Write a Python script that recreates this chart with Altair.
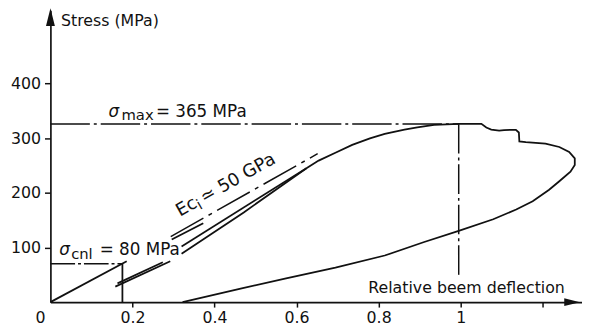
import altair as alt
import pandas as pd

FONT = "DejaVu Sans"
INK = "#111111"
X_MAX = 1.2957
Y_MAX = 533.8

# ---- curves (relative deflection, stress MPa) ----
init_x = [0.0, 0.186]
init_y = [0.0, 74.8]
unload_x = [0.1755, 0.1755]
unload_y = [70.6, 0.0]
reload_a_x = [0.1582, 0.2921]
reload_a_y = [28.3, 74.8]
reload_b_x = [0.1635, 0.2740]
reload_b_y = [34.3, 73.0]
loop_up_x = [0.3197, 0.625]
loop_up_y = [101.9, 245.3]
loop_lo_x = [0.3197, 0.4712, 0.625]
loop_lo_y = [88.4, 164.1, 245.3]
short_x = [0.2957, 0.3726]
short_y = [114.5, 144.3]
env_x = [0.625, 0.6538, 0.6947, 0.7356, 0.7788, 0.8149, 0.863, 0.8942, 0.9351,
         0.9952, 1.0505, 1.0625, 1.0745, 1.0938, 1.1058, 1.1346, 1.1418, 1.1430,
         1.1587, 1.2067, 1.2404, 1.2644, 1.2781, 1.2781, 1.2676, 1.2397, 1.2156,
         1.1755, 1.1353, 1.0793, 0.9952, 0.9111, 0.8149, 0.6947, 0.5745, 0.4663,
         0.3221]
env_y = [245.3, 258.8, 273.2, 287.6, 299.4, 307.8, 315.6, 319.7, 324.1,
         325.9, 325.9, 319.2, 315.6, 313.8, 314.7, 315.1, 310.2, 294.0,
         292.7, 289.8, 283.7, 274.7, 262.8, 250.7, 238.6, 220.6, 205.6,
         184.5, 169.5, 151.5, 130.4, 110.0, 85.3, 63.1, 43.3, 25.2,
         0.0]

# dash-dot construction lines
tangent_x = [0.2933, 0.6514]
tangent_y = [119.9, 271.4]
smax_h_x = [0.0, 0.9952]
smax_h_y = [325.9, 325.9]
smax_v_x = [0.9952, 0.9952]
smax_v_y = [325.9, 48.7]
scnl_x = [0.0, 0.1755]
scnl_y = [70.3, 70.3]

# axis ticks
x_ticks = [0.2, 0.4, 0.6, 0.8, 1.0, 1.2]
y_ticks = [100, 200, 300, 400]

# annotation texts and anchors
ylab_text, ylab_x, ylab_y = "Stress (MPa)", 0.0257, 504.1
xlab_text, xlab_x, xlab_y = "Relative beem deflection", 0.7748, 16.2
smax_parts = ["\u03c3", "max", "= 365 MPa"]
smax_px = [0.1418, 0.1731, 0.2572]
smax_py = [338.1, 332.7, 338.1]
scnl_parts = ["\u03c3", "cnl", "= 80 MPa"]
scnl_px = [0.0216, 0.0505, 0.1202]
scnl_py = [85.7, 79.4, 85.7]
ec_parts = ["Ec", "i", "\u2243 50 GPa"]
ec_x, ec_y, ec_angle = 0.3161, 156.0, 330.6
arrow_up_x, arrow_up_y = 0.0, 521.2
arrow_right_x, arrow_right_y = 1.2716, 0.0


def seg(name, xs, ys):
    return pd.DataFrame({"x": xs, "y": ys, "seg": name, "i": list(range(len(xs)))})


xscale = alt.Scale(domain=[0, X_MAX], nice=False, zero=False)
yscale = alt.Scale(domain=[0, Y_MAX], nice=False, zero=False)

xaxis = alt.Axis(values=x_ticks, title=None, grid=False, tickSize=5, tickWidth=1.5,
                 tickColor=INK, domainColor=INK, domainWidth=1.7,
                 labelFont=FONT, labelFontSize=16, labelColor=INK, labelPadding=3,
                 labelFlush=False, labelOverlap=False,
                 labelExpr="datum.value > 1.1 ? '' : (datum.value == 1 ? '1' : format(datum.value, '.1f'))")
yaxis = alt.Axis(values=y_ticks, title=None, grid=False, tickSize=6, tickWidth=1.5,
                 tickColor=INK, domainColor=INK, domainWidth=1.7,
                 labelFont=FONT, labelFontSize=16, labelColor=INK, labelPadding=4,
                 labelOverlap=False)

X = alt.X("x:Q", scale=xscale, axis=xaxis)
Y = alt.Y("y:Q", scale=yscale, axis=yaxis)

solid = pd.concat([
    seg("init", init_x, init_y),
    seg("unload", unload_x, unload_y),
    seg("ra", reload_a_x, reload_a_y),
    seg("rb", reload_b_x, reload_b_y),
    seg("lu", loop_up_x, loop_up_y),
    seg("ll", loop_lo_x, loop_lo_y),
    seg("sh", short_x, short_y),
    seg("env", env_x, env_y),
])

solid_layer = alt.Chart(solid).mark_line(color=INK, strokeWidth=1.8, interpolate="linear").encode(
    x=X, y=Y, detail="seg:N", order="i:Q")


def dashed(df, dash):
    return alt.Chart(df).mark_line(color=INK, strokeWidth=1.5, strokeDash=dash).encode(
        x=X, y=Y, detail="seg:N", order="i:Q")


tangent_layer = dashed(seg("tan", tangent_x, tangent_y), [38, 6, 4, 6])
smax_h_layer = dashed(seg("smh", smax_h_x, smax_h_y), [40, 4, 3, 4])
smax_v_layer = dashed(seg("smv", smax_v_x, smax_v_y), [30, 4, 3, 4])
scnl_layer = dashed(seg("sc", scnl_x, scnl_y), [25, 3, 3, 3])


def text_layer(df, size, **kw):
    return alt.Chart(df).mark_text(font=FONT, fontSize=size, color=INK, align="left",
                                   baseline="alphabetic", **kw).encode(
        x=X, y=Y, text="t:N")


def tdf(texts, xs, ys):
    return pd.DataFrame({"t": texts, "x": xs, "y": ys})


texts = [
    text_layer(tdf([ylab_text], [ylab_x], [ylab_y]), 16),
    text_layer(tdf([xlab_text], [xlab_x], [xlab_y]), 16),
    text_layer(tdf([smax_parts[0]], [smax_px[0]], [smax_py[0]]), 17, fontStyle="italic"),
    text_layer(tdf([smax_parts[1]], [smax_px[1]], [smax_py[1]]), 15),
    text_layer(tdf([smax_parts[2]], [smax_px[2]], [smax_py[2]]), 17),
    text_layer(tdf([scnl_parts[0]], [scnl_px[0]], [scnl_py[0]]), 17, fontStyle="italic"),
    text_layer(tdf([scnl_parts[1]], [scnl_px[1]], [scnl_py[1]]), 15),
    text_layer(tdf([scnl_parts[2]], [scnl_px[2]], [scnl_py[2]]), 17),
    text_layer(tdf([ec_parts[0]], [ec_x], [ec_y]), 18, angle=ec_angle),
    text_layer(tdf([ec_parts[1]], [ec_x], [ec_y]), 15, angle=ec_angle, dx=21, dy=4),
    text_layer(tdf([ec_parts[2]], [ec_x], [ec_y]), 18, angle=ec_angle, dx=28),
]

zero_label = alt.Chart(tdf(["0"], [0.0], [0.0])).mark_text(
    font=FONT, fontSize=16, color=INK, align="center", baseline="alphabetic", dx=-10, dy=21
).encode(x=X, y=Y, text="t:N")

arrow_up = alt.Chart(pd.DataFrame({"x": [arrow_up_x], "y": [arrow_up_y]})).mark_point(
    shape="M0,-1L0.5,1L-0.5,1Z", size=324, filled=True, color=INK, opacity=1, strokeWidth=0
).encode(x=X, y=Y)
arrow_right = alt.Chart(pd.DataFrame({"x": [arrow_right_x], "y": [arrow_right_y]})).mark_point(
    shape="M1,0L-1,-0.5L-1,0.5Z", size=256, filled=True, color=INK, opacity=1, strokeWidth=0
).encode(x=X, y=Y)

chart = alt.layer(
    solid_layer, tangent_layer, smax_h_layer, smax_v_layer, scnl_layer,
    *texts, zero_label, arrow_up, arrow_right
).properties(
    width=539, height=296,
    autosize=alt.AutoSizeParams(type="none"),
    padding={"left": 43, "top": 0, "right": 0, "bottom": 26},
    background="white",
).configure_view(stroke=None)

chart.save("out.html", embed_options={"renderer": "svg", "actions": False})
